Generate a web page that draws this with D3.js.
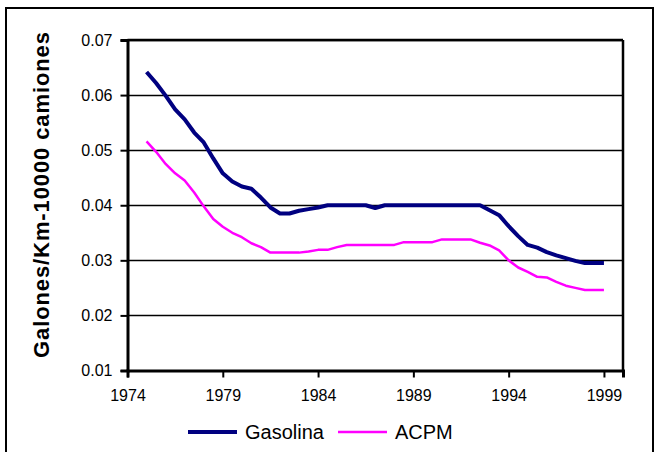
<!DOCTYPE html>
<html>
<head>
<meta charset="utf-8">
<script src="https://cdn.jsdelivr.net/npm/d3@7"></script>
<style>
  body { margin: 0; background: #fff; }
  text { font-family: Arial, "Liberation Sans", sans-serif; }
</style>
</head>
<body>
<div id="chart"></div>
<script>
// data (half-year steps)
var years = [1975, 1975.5, 1976, 1976.5, 1977, 1977.5, 1978, 1978.5, 1979, 1979.5,
             1980, 1980.5, 1981, 1981.5, 1982, 1982.5, 1983, 1983.5, 1984, 1984.5,
             1985, 1985.5, 1986, 1986.5, 1987, 1987.5, 1988, 1988.5, 1989, 1989.5,
             1990, 1990.5, 1991, 1991.5, 1992, 1992.5, 1993, 1993.5, 1994, 1994.5,
             1995, 1995.5, 1996, 1996.5, 1997, 1997.5, 1998, 1998.5, 1999];
var gasolina = [0.0642, 0.0622, 0.0599, 0.0574, 0.0556, 0.0532, 0.0514, 0.0485, 0.0458, 0.0443,
                0.0434, 0.0430, 0.0414, 0.0396, 0.0385, 0.0385, 0.0390, 0.0393, 0.0396, 0.0400,
                0.0400, 0.0400, 0.0400, 0.0400, 0.0395, 0.0400, 0.0400, 0.0400, 0.0400, 0.0400,
                0.0400, 0.0400, 0.0400, 0.0400, 0.0400, 0.0400, 0.0391, 0.0382, 0.0362, 0.0344,
                0.0328, 0.0323, 0.0315, 0.0309, 0.0304, 0.0299, 0.0295, 0.0295, 0.0295];
var acpm = [0.0516, 0.0497, 0.0475, 0.0458, 0.0445, 0.0423, 0.0398, 0.0375, 0.0361, 0.0350,
            0.0342, 0.0331, 0.0324, 0.0314, 0.0314, 0.0314, 0.0314, 0.0316, 0.0319, 0.0319,
            0.0324, 0.0328, 0.0328, 0.0328, 0.0328, 0.0328, 0.0328, 0.0333, 0.0333, 0.0333,
            0.0333, 0.0338, 0.0338, 0.0338, 0.0338, 0.0332, 0.0327, 0.0318, 0.0300, 0.0287,
            0.0279, 0.0270, 0.0269, 0.0261, 0.0254, 0.0250, 0.0246, 0.0246, 0.0246];
var yTicks = [0.01, 0.02, 0.03, 0.04, 0.05, 0.06, 0.07];
var xTicks = [1974, 1979, 1984, 1989, 1994, 1999];
var seriesNames = ["Gasolina", "ACPM"];
var seriesColors = ["#000080", "#FF00FF"];

var W = 659, H = 452;
var margin = {top: 40, right: 36, bottom: 81.5, left: 127.5},
    width = W - margin.left - margin.right,
    height = H - margin.top - margin.bottom;

var svg = d3.select("#chart")
  .append("svg")
    .attr("width", W)
    .attr("height", H);

// outer frame
svg.append("rect")
  .attr("x", 6).attr("y", 8)
  .attr("width", 647).attr("height", 470)
  .attr("fill", "none")
  .attr("stroke", "#000")
  .attr("stroke-width", 2);

var g = svg.append("g")
  .attr("transform", "translate(" + margin.left + "," + margin.top + ")");

var x = d3.scaleLinear().domain([1974, 2000]).range([0, width]);
var y = d3.scaleLinear().domain([0.01, 0.07]).range([height, 0]);

// gridlines
g.selectAll(".grid")
  .data(yTicks.slice(1))
  .enter().append("line")
    .attr("x1", 0).attr("x2", width)
    .attr("y1", function(d) { return Math.round(y(d)) + 0.5; })
    .attr("y2", function(d) { return Math.round(y(d)) + 0.5; })
    .attr("stroke", "#000")
    .attr("stroke-width", 1.3);

// top / right border
g.append("line")
  .attr("x1", width).attr("x2", width)
  .attr("y1", 0).attr("y2", height)
  .attr("stroke", "#000").attr("stroke-width", 2.5);
g.append("line")
  .attr("x1", 0).attr("x2", width)
  .attr("y1", 0).attr("y2", 0)
  .attr("stroke", "#000").attr("stroke-width", 2.5);

// axes
var yAxis = g.append("g")
  .call(d3.axisLeft(y).tickValues(yTicks).tickSize(7).tickPadding(8)
        .tickFormat(d3.format(".2f")));
var xAxis = g.append("g")
  .attr("transform", "translate(0," + height + ")")
  .call(d3.axisBottom(x).tickValues(xTicks).tickSize(7).tickPadding(12)
        .tickFormat(d3.format("d")));

[yAxis, xAxis].forEach(function(a) {
  a.select(".domain").attr("stroke", "#000").attr("stroke-width", 3);
  a.selectAll(".tick line").attr("stroke", "#000").attr("stroke-width", 2);
  a.selectAll("text").attr("fill", "#000").style("font-size", "16px");
});

// y-axis title
svg.append("text")
  .attr("transform", "translate(49,195) rotate(-90)")
  .attr("text-anchor", "middle")
  .attr("textLength", 326)
  .attr("lengthAdjust", "spacing")
  .style("font-size", "22px")
  .style("font-weight", "bold")
  .text("Galones/Km-10000 camiones");

// lines
var line = d3.line()
  .x(function(d) { return x(d[0]); })
  .y(function(d) { return y(d[1]); });

var series = [gasolina, acpm];
var widths = [4, 2.5];
series.forEach(function(s, i) {
  g.append("path")
    .datum(years.map(function(yr, j) { return [yr, s[j]]; }))
    .attr("fill", "none")
    .attr("stroke", seriesColors[i])
    .attr("stroke-width", widths[i])
    .attr("stroke-linejoin", "round")
    .attr("d", line);
});

// legend
var legend = svg.append("g").attr("transform", "translate(0,432)");
var legX = [188, 338];
seriesNames.forEach(function(name, i) {
  legend.append("line")
    .attr("x1", legX[i]).attr("x2", legX[i] + 49)
    .attr("y1", 0).attr("y2", 0)
    .attr("stroke", seriesColors[i])
    .attr("stroke-width", widths[i]);
  legend.append("text")
    .attr("x", legX[i] + 57)
    .attr("y", 7)
    .style("font-size", "20px")
    .text(name);
});
</script>
</body>
</html>
